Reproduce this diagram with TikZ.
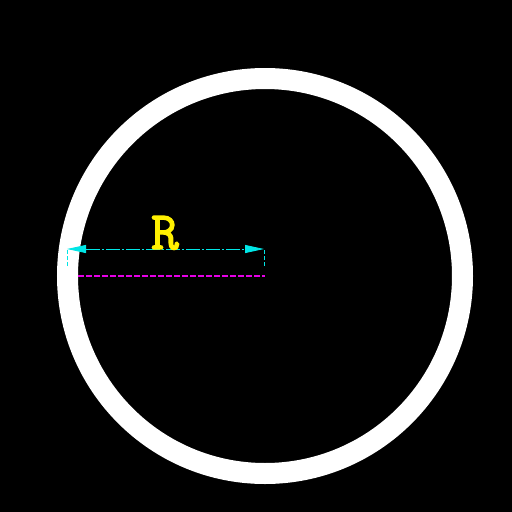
\documentclass[tikz,border=0pt]{standalone}
\usepackage{fontspec}
\newfontfamily\rfont[AutoFakeBold=2.5]{Latin Modern Mono}
\usetikzlibrary{arrows.meta}
\definecolor{dimcyan}{RGB}{0,230,230}
\definecolor{dimmag}{RGB}{230,0,230}
\definecolor{labyel}{RGB}{255,240,0}
\tikzset{
  ring/.style={draw=white,line width=21pt},
  dimline/.style={draw=dimcyan,line width=0.9pt,dash pattern=on 14pt off 2pt on 2pt off 2pt,
     {Triangle[length=19pt,width=8pt,fill=dimcyan]}-{Triangle[length=19pt,width=8pt,fill=dimcyan]}},
  extline/.style={draw=dimcyan,line width=0.9pt,dash pattern=on 4pt off 2pt},
  radline/.style={draw=dimmag,line width=2.2pt,dash pattern=on 6pt off 2pt},
  lab/.style={text=labyel,font=\rfont\bfseries\fontsize{54}{54}\selectfont,inner sep=0pt,anchor=base}
}
\begin{document}
\begin{tikzpicture}[x=1pt,y=-1pt]
\fill[black] (0,0) rectangle (512,512);
\useasboundingbox (0,0) rectangle (512,512);
\coordinate (c) at (265,276);
\coordinate (e) at (78,276);
\coordinate (dl) at (67,249);
\coordinate (dr) at (264,249);
\coordinate (dlb) at (67,266);
\coordinate (drb) at (264,266);
\draw[ring] (c) circle[radius=197.5];
\draw[radline] (e) -- (c);
\draw[extline] (dlb) -- (dl);
\draw[extline] (drb) -- (dr);
\draw[dimline] (dl) -- (dr);
\node[lab] (r) at (165,249) {R};
\end{tikzpicture}
\end{document}
